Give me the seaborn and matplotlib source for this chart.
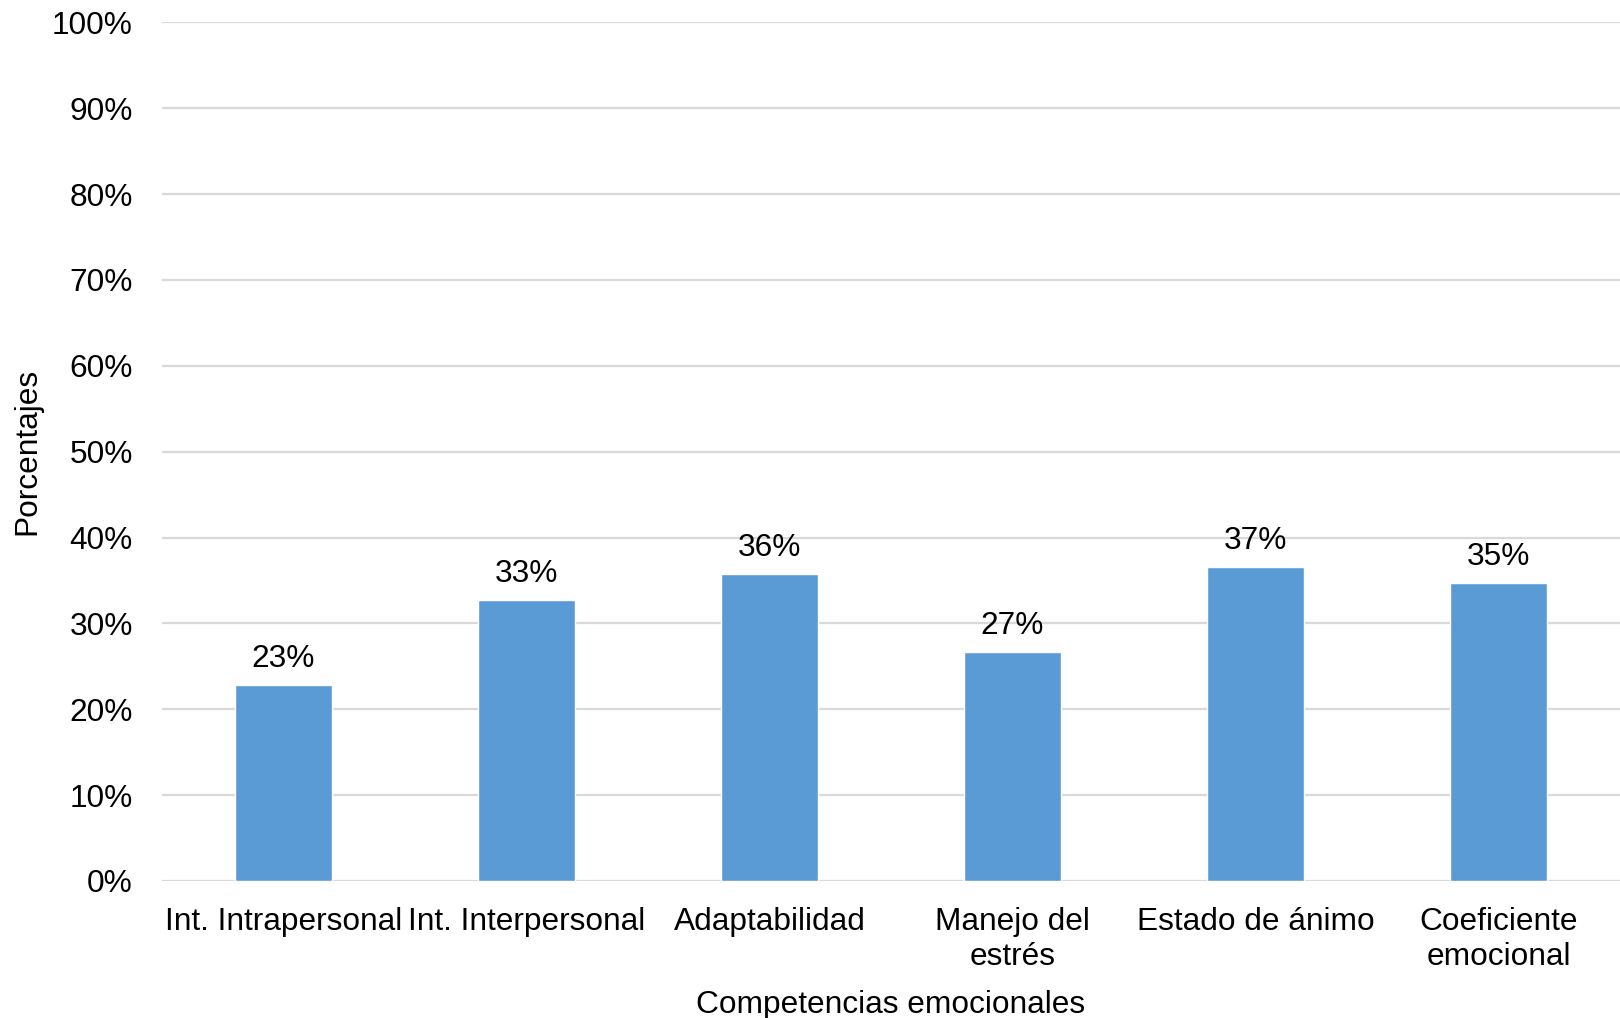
import matplotlib
matplotlib.use("Agg")
import matplotlib.pyplot as plt
import seaborn as sns
import pandas as pd
from matplotlib.ticker import FuncFormatter, MultipleLocator

categories = [
    "Int. Intrapersonal",
    "Int. Interpersonal",
    "Adaptabilidad",
    "Manejo del\nestrés",
    "Estado de ánimo",
    "Coeficiente\nemocional",
]
values = [22.8, 32.7, 35.7, 26.7, 36.6, 34.7]

df = pd.DataFrame({"competencia": categories, "porcentaje": values})

sns.set_theme(style="white")
plt.rcParams["font.family"] = ["Liberation Sans", "DejaVu Sans"]

FS = 22.8

fig = plt.figure(figsize=(16.2, 10.18), dpi=100)
ax = fig.add_axes([0.1, 0.1346, 0.9, 0.8434])

sns.barplot(data=df, x="competencia", y="porcentaje", color="#5B9BD5",
            width=0.4, saturation=1, ax=ax, zorder=3)

ax.set_ylim(0, 100)
ax.yaxis.set_major_locator(MultipleLocator(10))
ax.yaxis.set_major_formatter(FuncFormatter(lambda v, _: f"{v:.0f}%"))
ax.grid(axis="y", color="#D9D9D9", linewidth=1.6, zorder=0)
ax.grid(axis="x", visible=False)
for s in ax.spines.values():
    s.set_visible(False)

ax.tick_params(axis="y", labelsize=FS, pad=21, length=0, colors="black")
ax.tick_params(axis="x", labelsize=FS, pad=18.5, length=0, colors="black")
for lab in ax.get_xticklabels():
    lab.set_linespacing(1.25)

ax.set_xlabel("Competencias emocionales", fontsize=FS, labelpad=13, color="black")
ax.set_ylabel("Porcentajes", fontsize=FS, labelpad=7, color="black")

for p, v in zip(ax.patches, values):
    ax.annotate(f"{v:.0f}%", (p.get_x() + p.get_width() / 2, p.get_height()),
                xytext=(0, 8), textcoords="offset points",
                ha="center", va="bottom", fontsize=FS, color="black")

fig.savefig("out.png", dpi=100, facecolor="white")
